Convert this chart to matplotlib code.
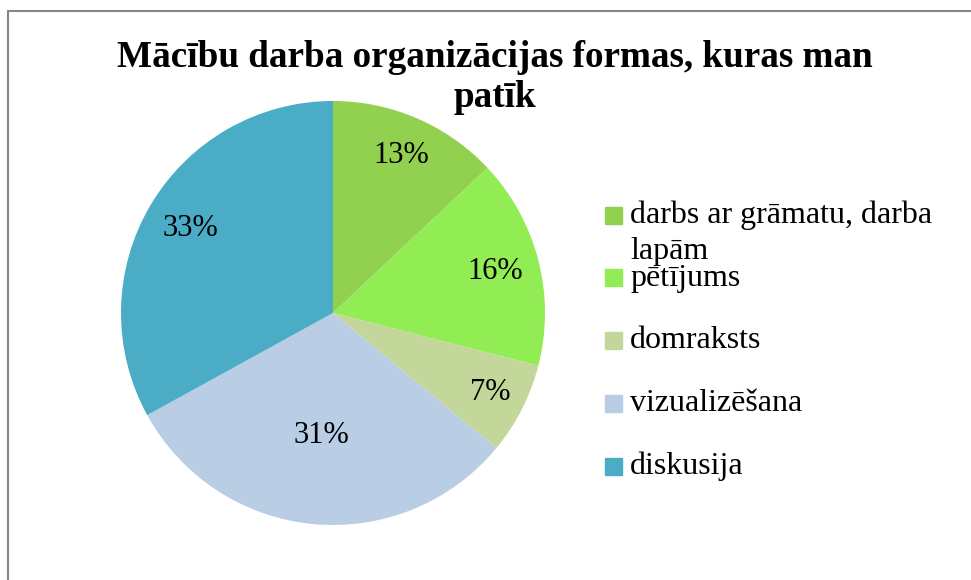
import matplotlib.pyplot as plt
from matplotlib.patches import Rectangle
import numpy as np

# Data
categories = ['darbs ar grāmatu, darba\nlapām', 'pētījums', 'domraksts',
              'vizualizēšana', 'diskusija']
shares = [13, 16, 7, 31, 33]
colors = ['#92D050', '#92EC54', '#C4D79B', '#B9CDE5', '#4BACC6']
label_radius = [0.81, 0.79, 0.83, 0.58, 0.78]
title = 'Mācību darba organizācijas formas, kuras man\npatīk'

plt.rcParams['font.family'] = ['Liberation Serif', 'DejaVu Serif']

W, H = 971, 580
fig = plt.figure(figsize=(W / 100, H / 100), dpi=100)

# outer chart frame (only left and top edges fall inside the picture)
fig.patches.append(Rectangle((7.5 / W, -0.1), 1.2, 1 - 10.5 / H + 0.1,
                             transform=fig.transFigure, fill=False,
                             edgecolor='#868686', linewidth=1.5))

# pie area: centre (333, 313) px, radius 212 px
cx, cy, r = 333, 313, 212
ax = fig.add_axes([(cx - r) / W, (H - cy - r) / H, 2 * r / W, 2 * r / H])
wedges, texts, pcts = ax.pie(shares, colors=colors, startangle=90,
                             counterclock=False, autopct='%1.0f%%',
                             textprops={'fontsize': 22, 'color': 'black'})
for w, t, d in zip(wedges, pcts, label_radius):
    mid = np.deg2rad((w.theta1 + w.theta2) / 2)
    t.set_position((d * np.cos(mid), d * np.sin(mid)))
ax.set_xlim(-1, 1)
ax.set_ylim(-1, 1)
ax.set_aspect('equal')

# title: baseline of the last line at y = 107 px
fig.text(495 / W, 1 - 107 / H, title, ha='center', va='baseline',
         fontsize=26.7, fontweight='bold', linespacing=1.2)

# legend entries (baseline aligned with the last line of each label)
y0, step = 215, 62.75
for i, (lab, col) in enumerate(zip(categories, colors)):
    yc = y0 + i * step
    nl = lab.count('\n')
    fig.patches.append(Rectangle((605 / W, 1 - (yc + 8.5) / H), 17 / W, 17 / H,
                                 transform=fig.transFigure, color=col))
    fig.text(630 / W, 1 - (yc + 8 + 36 * nl) / H, lab, ha='left',
             va='baseline', fontsize=23, linespacing=1.33)

fig.savefig('out.png', dpi=100)
